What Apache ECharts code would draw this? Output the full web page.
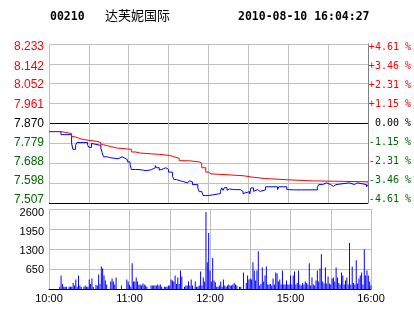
<!DOCTYPE html>
<html><head><meta charset="utf-8">
<script src="https://cdn.jsdelivr.net/npm/echarts@6/dist/echarts.min.js"></script>
<style>html,body{margin:0;padding:0;background:#fff}#c{width:414px;height:314px}</style>
</head><body><div id="c"></div>
<script>
// ---------- data ----------
const stockCode = '00210';
const stockName = '达芙妮国际';
const timestamp = '2010-08-10 16:04:27';
const prevClose = 7.870;
const priceTicks = [7.507, 7.598, 7.688, 7.779, 7.870, 7.961, 8.052, 8.142, 8.233];
const pctTicks = [-4.61, -3.46, -2.31, -1.15, 0, 1.15, 2.31, 3.46, 4.61];
const volTicks = [0, 650, 1300, 1950, 2600];
const timeLabels = ['10:00', '11:00', '12:00', '15:00', '16:00'];
const sessions = [['10:00', '12:29'], ['14:30', '16:00']];

const priceTimes = ['10:00','10:09','10:17','10:18','10:20','10:21','10:29','10:30','10:32','10:33','10:39','10:40','10:41','10:44','10:46','10:52','10:53','10:55','10:57','10:59',
  '11:01','11:02','11:05','11:06','11:07','11:08','11:11','11:12','11:13','11:17','11:20','11:21','11:23','11:24','11:26','11:28','11:30','11:33','11:34','11:36','11:39','11:41','11:44','11:46','11:48','11:52','11:53','11:55','11:56','11:58','11:59',
  '12:00','12:09','12:10','12:11','12:12','12:14','12:15','12:16','12:17','12:19','12:20','12:24','12:26','12:27',
  '14:31','14:32','14:34','14:35','14:37','14:39','14:43','14:52','14:53','14:59','15:01','15:02','15:05','15:06','15:10','15:11','15:22','15:23','15:26','15:29','15:32','15:34','15:36','15:46','15:50','15:52','15:59','16:00'];
const priceValues = [7.833,7.819,7.779,7.752,7.770,7.783,7.773,7.761,7.779,7.770,7.758,7.737,7.718,7.714,7.709,7.714,7.718,7.712,7.705,7.695,
  7.683,7.660,7.652,7.660,7.665,7.657,7.649,7.654,7.659,7.668,7.678,7.668,7.657,7.663,7.668,7.660,7.648,7.629,7.614,7.608,7.605,7.599,7.608,7.603,7.591,7.576,7.559,7.550,7.541,7.550,7.541,
  7.550,7.560,7.576,7.565,7.577,7.565,7.571,7.577,7.568,7.577,7.568,7.560,7.550,7.559,
  7.548,7.576,7.560,7.568,7.560,7.567,7.581,7.568,7.581,7.568,7.560,7.567,7.560,7.567,7.560,7.567,7.579,7.591,7.599,7.591,7.583,7.591,7.599,7.591,7.599,7.591,7.581,7.591];

const avgTimes = ['10:00','10:09','10:17','10:19','10:22','10:25','10:30','10:36','10:39','10:41','10:47','10:51','11:02','11:05','11:09','11:23','11:31','11:34','11:38','11:45','11:53','11:55','11:58','12:00','12:02','12:14','12:27','14:32','14:42','15:00','15:18','16:00'];
const avgValues = [7.833,7.824,7.810,7.804,7.798,7.793,7.789,7.783,7.773,7.764,7.758,7.752,7.740,7.735,7.729,7.724,7.718,7.711,7.700,7.695,7.688,7.668,7.648,7.640,7.636,7.631,7.626,7.619,7.613,7.608,7.604,7.599];

const volumes = [
  0,0,0,0,0,0,0,0,77,439, 165,77,77,77,0,77,77,77,197,110,
  307,77,439,110,77,0,77,110,77,77, 307,165,340,77,0,132,110,472,165,735,
  669,439,274,143,0,0,241,340,241,143, 373,0,0,0,110,0,0,0,307,241,
  132,77,834,241,241,373,241,132,143,110, 175,143,110,77,0,0,110,110,110,110,
  110,143,110,143,77,0,77,77,77,110, 110,307,274,241,439,165,373,165,603,406,
  0,77,110,110,241,110,307,110,0,241, 77,77,110,570,110,373,241,2501,867,1821,
  603,241,1009,274,219,77,77,110,241,77, 307,110,77,110,143,110,110,143,197,143,
  110,0,77,77,0,537,0,197,439,307, 340,307,867,603,274,603,1229,110,165,702,
  241,439,735,143,143,165,110,340,143,537, 505,241,307,143,603,143,143,274,143,143,
  439,143,439,570,143,197,603,143,110,197, 143,241,197,143,834,110,373,143,110,274,
  603,241,669,1130,241,175,702,175,406,175, 143,340,373,241,702,373,197,143,537,439,
  143,274,373,143,1492,143,735,197,143,932, 175,340,439,537,143,1294,439,603,439,241,
  110
];

// ---------- build ----------
function toMin(s){ const p = s.split(':').map(Number); return p[0]*60 + p[1]; }
function fmt(m){ return String(Math.floor(m/60)).padStart(2,'0') + ':' + String(m%60).padStart(2,'0'); }
const times = [];
sessions.forEach(([a, b]) => { for (let m = toMin(a); m <= toMin(b); m++) times.push(fmt(m)); });

const GRID_GRAY = '#c0c0c0', RED = '#ff0000', GREEN = '#006600', BLUE = '#0000ff';
function nearest(arr, v){ let bi = 0; arr.forEach((a, i) => { if (Math.abs(a - v) < Math.abs(arr[bi] - v)) bi = i; }); return bi; }
function priceColor(v){ return v > prevClose + 1e-6 ? RED : (v < prevClose - 1e-6 ? GREEN : '#000'); }
function pctColor(v){ return v > 1e-6 ? RED : (v < -1e-6 ? GREEN : '#000'); }
// vertical label nudges (style only)
function richShift(n, fn){ const r = {}; for (let i = 0; i < n; i++){ const d = fn(i); r['s'+i] = {padding:[Math.max(0, 2*d), 0, Math.max(0, -2*d), 0]}; } return r; }
const priceRich = richShift(9, i => 2.7 - 0.785*(8 - i) + 0.4);
const volRich = richShift(5, i => i * 1.0);

const lineData = (ts, vs) => ts.map((t, i) => [times.indexOf(t), vs[i]]);

const chart = echarts.init(document.getElementById('c'));
chart.setOption({
  animation: false,
  backgroundColor: '#fff',
  graphic: [
    {type:'text', x:50, y:17, style:{text:stockCode, font:'bold 11.5px "DejaVu Sans Mono"', fill:'#000', align:'left', verticalAlign:'middle'}},
    {type:'text', x:105, y:15.5, style:{text:stockName, font:'13px "Noto Sans CJK SC"', fill:'#000', align:'left', verticalAlign:'middle'}},
    {type:'text', x:238, y:17, style:{text:timestamp, font:'bold 11.5px "DejaVu Sans Mono"', fill:'#000', align:'left', verticalAlign:'middle'}}
  ],
  grid: [
    {left:49, top:44, width:322, height:159},
    {left:49, top:209, width:322, height:80}
  ],
  xAxis: [
    {gridIndex:0, type:'category', data:times, boundaryGap:false,
     axisLine:{show:false}, axisTick:{show:false}, axisLabel:{show:false},
     splitLine:{show:true, interval:(i) => i % 30 === 0, lineStyle:{color:GRID_GRAY, width:1}}},
    {gridIndex:1, type:'category', data:times, boundaryGap:false,
     axisLine:{show:true, lineStyle:{color:'#000', width:1}}, axisTick:{show:false},
     axisLabel:{interval:(i, v) => timeLabels.includes(v), color:'#000', fontSize:11, fontFamily:'Liberation Sans', margin:4},
     splitLine:{show:true, interval:(i) => i % 30 === 0, lineStyle:{color:GRID_GRAY, width:1}}}
  ],
  yAxis: [
    {gridIndex:0, type:'value', min:priceTicks[0], max:priceTicks[priceTicks.length-1], position:'left',
     axisLine:{show:false}, axisTick:{show:false, customValues:priceTicks},
     axisLabel:{customValues:priceTicks, margin:5, fontSize:12, fontFamily:'Liberation Sans',
       color:(v) => priceColor(v),
       formatter:(v) => { const i = nearest(priceTicks, v); return '{s'+i+'|'+priceTicks[i].toFixed(3)+'}'; },
       rich:priceRich},
     splitLine:{show:true, lineStyle:{width:1, color:priceTicks.map(v => (v === prevClose || v === priceTicks[0]) ? '#000' : GRID_GRAY)}}},
    {gridIndex:0, type:'value', min:pctTicks[0], max:pctTicks[pctTicks.length-1], position:'right',
     axisLine:{show:true, lineStyle:{color:'#808080', width:1}}, axisTick:{show:false, customValues:pctTicks},
     axisLabel:{customValues:pctTicks, margin:1, fontSize:10, fontFamily:'DejaVu Sans Mono',
       color:(v) => pctColor(v),
       formatter:(v) => { const i = nearest(pctTicks, v); const p = pctTicks[i]; const s = (p > 0 ? '+' : p < 0 ? '-' : ' ') + Math.abs(p).toFixed(2) + ' %'; return '{s'+i+'|'+s+'}'; },
       rich:priceRich},
     splitLine:{show:false}},
    {gridIndex:1, type:'value', min:volTicks[0], max:volTicks[volTicks.length-1], interval:volTicks[1]-volTicks[0],
     axisLine:{show:false}, axisTick:{show:false},
     axisLabel:{margin:5, fontSize:11, fontFamily:'Liberation Sans', color:'#000',
       formatter:(v) => { if (v === 0) return ''; const i = nearest(volTicks, v); return '{s'+i+'|'+v+'}'; },
       rich:volRich},
     splitLine:{show:true, lineStyle:{color:GRID_GRAY, width:1}}}
  ],
  series: [
    {type:'line', xAxisIndex:0, yAxisIndex:0, data:lineData(priceTimes, priceValues), step:'end', symbol:'none',
     lineStyle:{color:BLUE, width:1}, z:3},
    {type:'line', xAxisIndex:0, yAxisIndex:0, data:lineData(avgTimes, avgValues), step:'end', symbol:'none',
     lineStyle:{color:RED, width:1}, z:4},
    {type:'bar', xAxisIndex:1, yAxisIndex:2, data:volumes, barWidth:1, itemStyle:{color:BLUE}, z:3}
  ]
});
</script></body></html>
